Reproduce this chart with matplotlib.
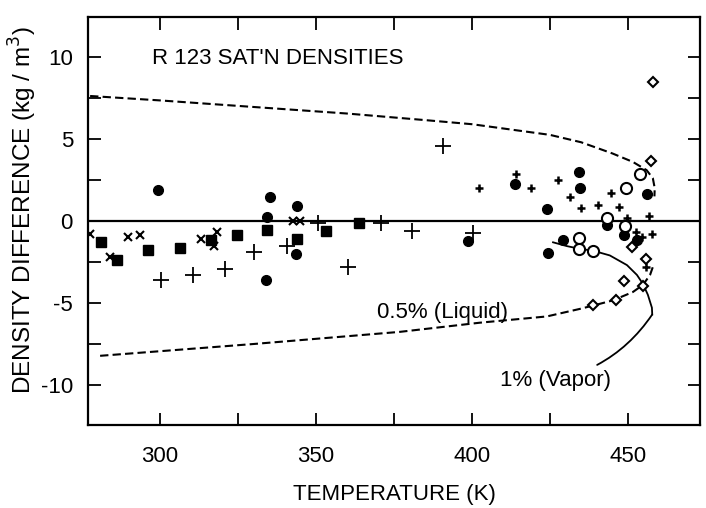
import matplotlib
matplotlib.use("Agg")
import matplotlib.pyplot as plt
from matplotlib.ticker import MultipleLocator

plt.rcParams['font.family'] = ['Liberation Sans', 'DejaVu Sans']
plt.rcParams['axes.unicode_minus'] = False

# filled circles
circ_T = [299.4, 335.3, 343.9, 334.3, 343.6, 334.0, 398.7, 413.8, 424.2, 434.3, 434.6,
          456.1, 443.3, 448.7, 452.9, 429.2, 424.4]
circ_v = [1.9, 1.45, 0.9, 0.25, -2.0, -3.6, -1.2, 2.23, 0.75, 2.99, 2.02,
          1.66, -0.27, -0.86, -1.15, -1.15, -1.98]

# filled squares
sq_T = [281.0, 296.2, 286.2, 306.4, 316.3, 324.7, 334.3, 343.9, 353.2, 363.8]
sq_v = [-1.28, -1.77, -2.35, -1.65, -1.15, -0.83, -0.55, -1.07, -0.62, -0.1]

# crosses (x)
x_T = [277.6, 289.7, 293.6, 284.0, 313.1, 318.3, 317.3, 342.6, 344.9]
x_v = [-0.79, -0.95, -0.85, -2.17, -1.1, -0.7, -1.5, 0.0, 0.0]

# large plus
bp_T = [300.3, 310.6, 320.8, 330.1, 340.7, 350.6, 360.3, 370.8, 380.8, 390.7, 400.3]
bp_v = [-3.58, -3.27, -2.9, -1.9, -1.5, -0.13, -2.8, -0.1, -0.59, 4.6, -0.71]

# small plus
sp_T = [402.2, 414.1, 418.9, 427.6, 431.4, 434.9, 440.4, 444.6, 447.1, 449.7,
        456.7, 452.6, 457.7, 454.5, 455.8]
sp_v = [2.04, 2.87, 2.03, 2.49, 1.46, 0.80, 1.0, 1.68, 0.84, 0.18,
        0.32, -0.67, -0.78, -1.0, -2.8]

# open circles
oc_T = [449.4, 453.8, 443.3, 449.0, 434.3, 434.3, 438.8]
oc_v = [2.0, 2.87, 0.16, -0.31, -1.05, -1.7, -1.81]

# open diamonds
dm_T = [458.0, 457.4, 451.3, 455.8, 448.7, 454.8, 446.2, 438.8]
dm_v = [8.5, 3.67, -1.59, -2.3, -3.67, -3.96, -4.84, -5.1]

# 0.5 % liquid band
liq_up_T = [277.6, 300, 330, 360, 385, 400, 425, 435, 445, 451.6, 456, 458, 458.6, 458.5]
liq_up_v = [7.62, 7.35, 6.95, 6.55, 6.15, 5.9, 5.25, 4.8, 4.12, 3.6, 3.1, 2.6, 2.0, 1.5]
liq_lo_T = [280.8, 330, 376.9, 402.6, 424.0, 434.6, 438.8, 445.2, 451.6, 454.8, 457.1, 458.0]
liq_lo_v = [-8.22, -7.5, -6.76, -6.2, -5.82, -5.36, -5.16, -4.84, -4.33, -3.9, -3.29, -2.8]

# 1 % vapor line
vap_T = [426.0, 430.4, 434.6, 438.8, 444.2, 449.7, 452.9, 454.8, 456.4, 457.7, 457.8]
vap_v = [-1.30, -1.53, -1.70, -1.81, -2.10, -2.69, -3.29, -3.83, -4.50, -5.29, -5.7]

fig = plt.figure(figsize=(7.06, 5.08), dpi=100)
ax = fig.add_axes([0.125, 0.163, 0.866, 0.804])

ax.axhline(0, color='black', lw=1.6)
ax.plot(liq_up_T, liq_up_v, color='black', ls=(0, (4, 2)), lw=1.5)
ax.plot(liq_lo_T, liq_lo_v, color='black', ls=(0, (4, 2)), lw=1.5)
ax.plot(vap_T, vap_v, color='black', lw=1.3)

ax.plot(circ_T, circ_v, 'o', color='black', ms=7)
ax.plot(sq_T, sq_v, 's', color='black', ms=7)
ax.plot(x_T, x_v, 'x', color='black', ms=6, mew=1.5)
ax.plot(bp_T, bp_v, '+', color='black', ms=12, mew=1.3)
ax.plot(sp_T, sp_v, '+', color='black', ms=6, mew=1.8)
ax.plot(oc_T, oc_v, 'o', mfc='white', mec='black', ms=8, mew=1.5)
ax.plot(dm_T, dm_v, 'D', mfc='white', mec='black', ms=5.5, mew=1.5)

ax.text(297.5, 9.9, "R 123 SAT'N DENSITIES", fontsize=16, va='center')
ax.text(369.5, -5.55, "0.5% (Liquid)", fontsize=16, va='center')
ax.annotate("1% (Vapor)", xy=(457.8, -5.7), xytext=(444.5, -9.7),
            fontsize=16, ha='right', va='center',
            arrowprops=dict(arrowstyle='-', color='black', lw=1.3,
                            connectionstyle='arc3,rad=0.2', shrinkA=3, shrinkB=0))

ax.set_xlim(277, 473)
ax.set_ylim(-12.45, 12.45)
ax.xaxis.set_major_locator(MultipleLocator(50))
ax.xaxis.set_minor_locator(MultipleLocator(25))
ax.yaxis.set_major_locator(MultipleLocator(5))
ax.yaxis.set_minor_locator(MultipleLocator(2.5))
ax.tick_params(which='both', direction='in', top=True, right=True, length=9, width=1.3,
               labelsize=16)
ax.tick_params(axis='x', pad=15)
ax.tick_params(axis='y', pad=11)
for s in ax.spines.values():
    s.set_linewidth(1.6)

ax.set_xlabel("TEMPERATURE (K)", fontsize=16, labelpad=12)
ax.set_ylabel("DENSITY DIFFERENCE (kg / m$^3$)", fontsize=17.5)
ax.yaxis.set_label_coords(-0.08, 0.527)

fig.savefig("out.png", dpi=100)
